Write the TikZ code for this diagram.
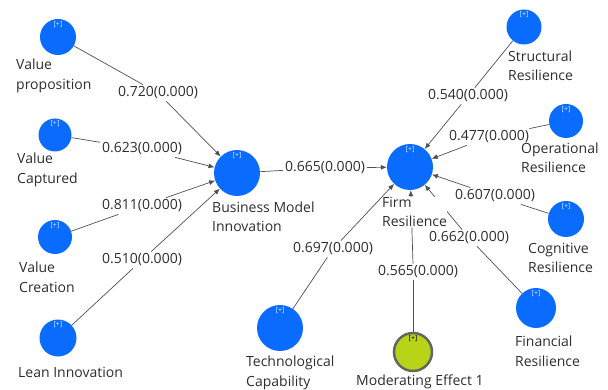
\documentclass[tikz,border=0pt]{standalone}
\usepackage{fontspec}
\setmainfont{Open Sans}
\usetikzlibrary{arrows.meta}
\definecolor{lvblue}{HTML}{0A6CFF}
\definecolor{modgreen}{HTML}{B8D318}
\definecolor{modrim}{HTML}{5E6A5E}
\definecolor{pathgray}{HTML}{505050}
\definecolor{txtgray}{HTML}{2E2E2E}
\tikzset{
  lv/.style={circle, fill=lvblue, minimum size=#1, inner sep=0pt,
    label={[anchor=north, yshift=-2.5pt, inner sep=0pt, text=white!85!lvblue,
            font=\fontsize{7}{7}\selectfont]90:{[+]}}},
  modlv/.style={circle, fill=modgreen, draw=modrim, line width=2.5pt,
    minimum size=#1, inner sep=0pt,
    label={[anchor=north, yshift=-3.5pt, inner sep=0pt, text=black,
            font=\fontsize{7}{7}\selectfont]90:{[+]}}},
  lvname/.style={anchor=west, align=left, inner sep=0pt, fill=white,
    text=txtgray, font=\fontsize{14}{19.5}\selectfont},
  coef/.style={inner sep=2pt, text=txtgray, font=\fontsize{14}{14}\selectfont},
  path/.style={draw=pathgray, line width=0.7pt}
}
\begin{document}
\begin{tikzpicture}[x=1pt, y=-1pt, >={Latex[length=6pt,width=5pt]}]
  \useasboundingbox (0,0) rectangle (608,390);
  % latent variables
  \node [lv=36] (vp) at (58,37) {};
  \node [lv=33] (vcap) at (55,135) {};
  \node [lv=34] (vcre) at (55,237) {};
  \node [lv=37] (lean) at (58,338) {};
  \node [lv=46] (bmi) at (237,173) {};
  \node [lv=46] (fr) at (410,167) {};
  \node [lv=46] (tech) at (280,328) {};
  \node [modlv=38] (mod) at (413,352) {};
  \node [lv=35] (struc) at (524,27) {};
  \node [lv=34] (oper) at (566,121) {};
  \node [lv=36] (cogn) at (566,219) {};
  \node [lv=40] (fin) at (536,308) {};
  % path coefficients
  \node [coef] (c720) at (158,93) {0.720(0.000)};
  \node [coef] (c623) at (142,149) {0.623(0.000)};
  \node [coef] (c811) at (142,206) {0.811(0.000)};
  \node [coef] (c510) at (142,260) {0.510(0.000)};
  \node [coef] (c665) at (325,168) {0.665(0.000)};
  \node [coef] (c697) at (333,249) {0.697(0.000)};
  \node [coef] (c565) at (418,272) {0.565(0.000)};
  \node [coef] (c540) at (468,96) {0.540(0.000)};
  \node [coef] (c477) at (489,137) {0.477(0.000)};
  \node [coef] (c607) at (495,196) {0.607(0.000)};
  \node [coef] (c662) at (469,238) {0.662(0.000)};
  % connectors
  \draw [path] (vp) -- (c720);
  \draw [path,->] (c720) -- (bmi);
  \draw [path] (vcap) -- (c623);
  \draw [path,->] (c623) -- (bmi);
  \draw [path] (vcre) -- (c811);
  \draw [path,->] (c811) -- (bmi);
  \draw [path] (lean) -- (c510);
  \draw [path,->] (c510) -- (bmi);
  \draw [path] (bmi) -- (c665);
  \draw [path,->] (c665) -- (fr);
  \draw [path] (tech) -- (c697);
  \draw [path,->] (c697) -- (fr);
  \draw [path] (mod) -- (mod |- c565.south);
  \draw [path,->] (mod |- c565.north) -- (fr);
  \draw [path] (struc) -- (c540);
  \draw [path,->] (c540) -- (fr);
  \draw [path] (oper) -- (c477);
  \draw [path,->] (c477) -- (fr);
  \draw [path] (cogn) -- (c607);
  \draw [path,->] (c607) -- (fr);
  \draw [path] (fin) -- (c662);
  \draw [path,->] (c662) -- (fr);
  % names (over the connectors)
  \node [lvname] (vpname) at (16,76) {Value\\proposition};
  \node [lvname] (vcapname) at (17,170) {Value\\Captured};
  \node [lvname] (vcrename) at (19,277) {Value\\Creation};
  \node [lvname] (leanname) at (18,372) {Lean Innovation};
  \node [lvname] (bminame) at (212,217) {Business Model\\Innovation};
  \node [lvname] (frname) at (382,212) {Firm\\Resilience};
  \node [lvname] (techname) at (246,373) {Technological\\Capability};
  \node [lvname] (modname) at (356,382) {Moderating Effect 1};
  \node [lvname] (strucname) at (508,66) {Structural\\Resilience};
  \node [lvname] (opername) at (521,158) {Operational\\Resilience};
  \node [lvname] (cognname) at (528,258) {Cognitive\\Resilience};
  \node [lvname] (finname) at (515,351) {Financial\\Resilience};
\end{tikzpicture}
\end{document}
